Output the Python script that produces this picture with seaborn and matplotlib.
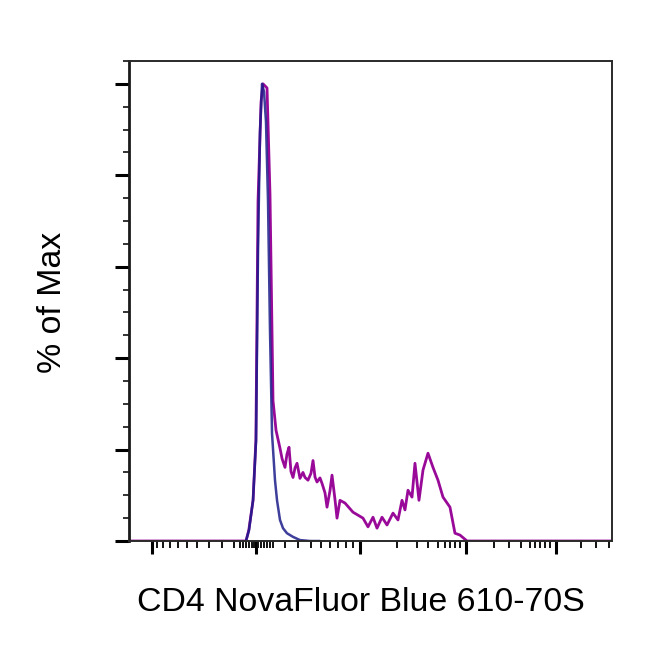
import seaborn as sns
import matplotlib.pyplot as plt
import pandas as pd
import numpy as np

# histogram traces, x in display channels (0-1024), y in % of max
stained_x = [0, 242, 248, 254, 263, 269, 273.5, 280, 284, 292.6, 298.9, 305.3, 311.7, 320.1,
             324.5, 330.7, 334.9, 339.2, 343.4, 347.7, 352.0, 356.2, 362.5, 368.8, 373.1,
             379.5, 385.8, 390.1, 394.3, 398.6, 404.9, 409.2, 415.6, 419.8, 426.1, 430.4,
             436.8, 441.0, 447.3, 457.9, 474.9, 496.1, 506.7, 517.3, 525.8, 536.4, 547.0,
             559.7, 570.3, 578.8, 585.1, 591.5, 600.0, 606.3, 614.8, 623.3, 633.9, 644.5,
             655.1, 665.7, 680.5, 691.1, 701.7, 716.6, 1024]
stained_y = [0, 0, 0, 2.4, 8.9, 22.0, 74.3, 96.1, 100, 99.1, 75.8, 30.7, 24.2, 20.3,
             18.0, 16.1, 19.0, 20.5, 15.2, 13.9, 16.0, 17.0, 13.7, 15.0, 13.9,
             13.3, 14.8, 17.6, 14.0, 12.9, 13.8, 12.6, 10.5, 7.4, 11.0, 14.4,
             9.0, 5.0, 8.9, 8.3, 6.3, 5.0, 3.1, 5.2, 2.8, 5.2, 3.5,
             6.1, 4.6, 8.9, 6.8, 11.1, 9.6, 17.0, 8.9, 15.5, 19.2, 16.1,
             13.3, 9.6, 7.4, 1.7, 1.3, 0, 0]

control_x = [248, 254.4, 262.9, 269.3, 273.5, 277.7, 282.0, 286.2, 290.4, 294.7, 298.9,
             303.2, 309.5, 313.8, 320.1, 326.5, 334.9, 347.7, 362.5, 383.7, 404.9]
control_y = [0, 2.4, 8.9, 22.0, 63.4, 89.5, 100, 98.3, 91.7, 74.3, 46.0,
             23.5, 13.3, 8.9, 4.6, 2.8, 1.7, 0.9, 0.2, 0, 0]

# biexponential axis ticks (channel positions)
x_major = [48.8, 269.3, 489.7, 714.5, 905.3]
x_minor = [59.4, 72.1, 86.9, 103.9, 123.0, 144.2, 169.6, 197.2, 222.6, 235.3, 241.7, 248.0,
           254.4, 260.8, 265.0, 273.5, 279.9, 286.2, 292.6, 298.9, 305.3, 330.7, 358.3,
           385.8, 407.0, 426.1, 443.1, 460.0, 474.9, 568.2, 610.6, 633.9, 655.1, 670.0,
           680.5, 691.1, 701.7, 773.8, 805.6, 831.0, 850.1, 860.7, 871.3, 881.9, 892.5,
           958.2, 990.0, 1017.6]

stained = pd.DataFrame({'x': stained_x, 'y': stained_y})
control = pd.DataFrame({'x': control_x, 'y': control_y})

sns.set_style("ticks")
plt.rcParams['font.family'] = ['Liberation Sans', 'DejaVu Sans']
plt.rcParams['text.color'] = 'black'
plt.rcParams['axes.labelcolor'] = 'black'

fig = plt.figure(figsize=(6.5, 6.5), dpi=100)
ax = fig.add_axes([0.1985, 0.1677, 0.743, 0.7385])

sns.lineplot(data=stained, x='x', y='y', sort=False, color='#990a99', lw=2.0, ax=ax)
sns.lineplot(data=control, x='x', y='y', sort=False, color='#1c1c8a', lw=1.8, alpha=0.85, ax=ax)

ax.set_xlim(0, 1024)
ax.set_ylim(0, 105)

ax.set_xticks(x_major)
ax.set_xticks(x_minor, minor=True)
ax.set_yticks(np.arange(0, 101, 20))
ax.set_yticks(np.arange(5, 106, 5), minor=True)
ax.set_xticklabels([])
ax.set_yticklabels([])

ax.tick_params(axis='y', which='major', length=10, width=2.2, color='black')
ax.tick_params(axis='y', which='minor', length=4.3, width=1.2, color='#111111')
ax.tick_params(axis='x', which='major', length=9, width=2.2, color='black')
ax.tick_params(axis='x', which='minor', length=5, width=1.4, color='#111111')

for side in ['top', 'right', 'bottom']:
    ax.spines[side].set_linewidth(1.4)
    ax.spines[side].set_color('#2a2a2a')
ax.spines['left'].set_linewidth(2.0)
ax.spines['left'].set_color('#1a1a1a')

ax.set_xlabel('CD4 NovaFluor Blue 610-70S', fontsize=24.4)
ax.set_ylabel('% of Max', fontsize=24.4)
ax.xaxis.set_label_coords(0.48, -0.095)
ax.yaxis.set_label_coords(-0.127, 0.498)

plt.savefig('out.png', dpi=100)
